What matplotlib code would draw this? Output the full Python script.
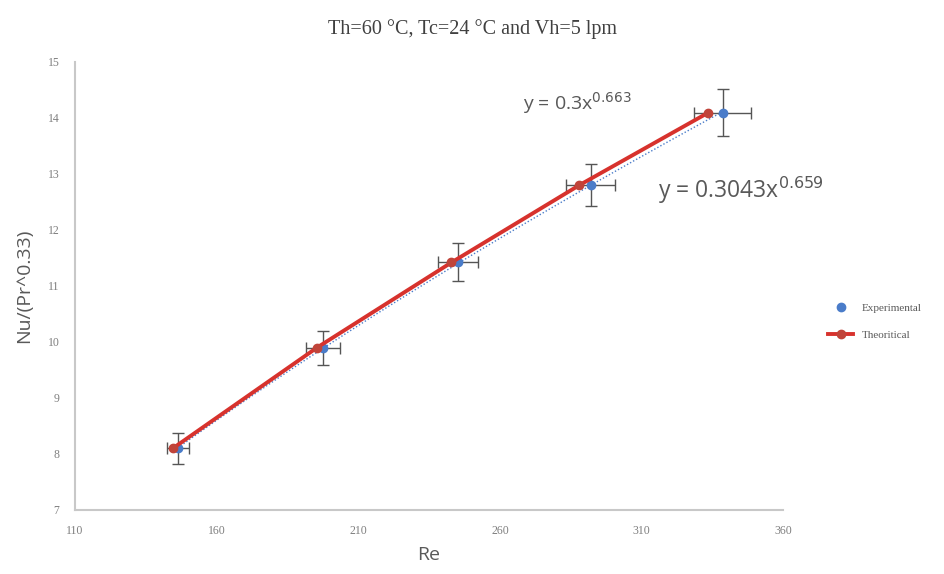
import numpy as np
import matplotlib
matplotlib.use("Agg")
import matplotlib.pyplot as plt
from matplotlib.lines import Line2D

# experimental points (blue) with error bars
re_exp = [146.4, 197.6, 245.3, 292.0, 338.6]
nu_exp = [8.10, 9.89, 11.43, 12.80, 14.09]
re_err = [4.0, 6.0, 7.0, 8.7, 10.0]
nu_err = [0.27, 0.30, 0.34, 0.38, 0.42]

# theoretical points (red)
re_th = [144.6, 195.5, 242.9, 288.0, 333.3]
nu_th = [8.10, 9.90, 11.42, 12.80, 14.09]

x_ticks = [110, 160, 210, 260, 310, 360]
y_ticks = [7, 8, 9, 10, 11, 12, 13, 14, 15]

blue = "#4a7cc9"
red = "#d7322d"
red_mk = "#c0443a"
grey_txt = "#595959"

fig = plt.figure(figsize=(9.45, 5.74), dpi=100)
ax = fig.add_axes([0.079, 0.1115, 0.75, 0.7805])

# power trendline on experimental data (dotted)
b, ln_a = np.polyfit(np.log(re_exp), np.log(nu_exp), 1)
xs = np.linspace(re_exp[0], re_exp[-1], 50)
ax.plot(xs, np.exp(ln_a) * xs ** b, linestyle=(0, (1, 1.5)), color=blue, lw=1.0, zorder=2)

ax.errorbar(re_exp, nu_exp, xerr=re_err, yerr=nu_err, fmt="o", color=blue,
            ms=6, ecolor="#555555", elinewidth=1.0, capsize=4, capthick=1.0, zorder=3)
ax.plot(re_th, nu_th, "-o", color=red, lw=2.8, ms=6, mfc=red_mk, mec=red_mk, zorder=4)

ax.set_xlim(110, 360)
ax.set_ylim(7, 15)
ax.set_xticks(x_ticks)
ax.set_yticks(y_ticks)
ax.tick_params(length=0, labelsize=8.5, labelcolor="#7f7f7f", pad=11)
for lab in ax.get_xticklabels() + ax.get_yticklabels():
    lab.set_family("Liberation Serif")

for s in ["top", "right"]:
    ax.spines[s].set_visible(False)
for s in ["left", "bottom"]:
    ax.spines[s].set_color("#c8c8c8")
    ax.spines[s].set_linewidth(1.5)

ax.set_xlabel("Re", fontsize=14, color=grey_txt, family="Open Sans", labelpad=6)
ax.set_ylabel("Nu/(Pr^0.33)", fontsize=14, color=grey_txt, family="Open Sans", labelpad=10)

fig.text(0.5, 0.95, "Th=60 °C, Tc=24 °C and Vh=5 lpm", ha="center", va="center",
         fontsize=14.5, color="#404040", family="Liberation Serif")

ax.text(0.633, 0.908, r"y = 0.3x$^{0.663}$", transform=ax.transAxes, ha="left", va="center",
        fontsize=14, color=grey_txt, family="Open Sans")
ax.text(0.823, 0.714, r"y = 0.3043x$^{0.659}$", transform=ax.transAxes, ha="left", va="center",
        fontsize=16.5, color=grey_txt, family="Open Sans")

handles = [
    Line2D([], [], marker="o", ls="none", color=blue, ms=6),
    Line2D([], [], marker="o", ls="-", color=red, lw=2.8, ms=6, mfc=red_mk, mec=red_mk),
]
fig.legend(handles, ["Experimental", "Theoritical"], loc="center left",
           bbox_to_anchor=(0.866, 0.44), frameon=False,
           prop={"family": "Liberation Serif", "size": 8}, labelcolor="#595959",
           handlelength=2.2, labelspacing=1.6)

fig.savefig("out.png", dpi=100)
